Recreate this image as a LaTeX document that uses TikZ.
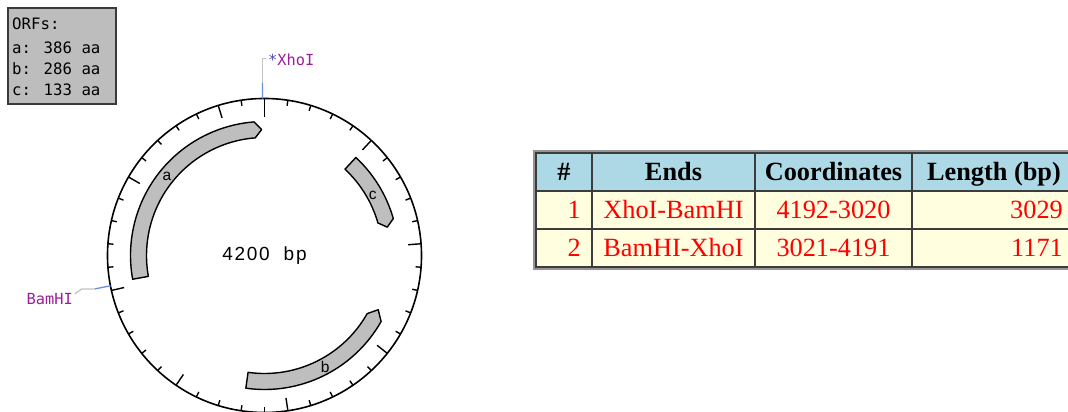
\documentclass[tikz,border=0pt]{standalone}
\usepackage{fontspec}
\setmainfont{Liberation Serif}
\newfontfamily\monof{DejaVu Sans Mono}
\newfontfamily\sansf{Liberation Sans}
\newfontfamily\sanswide[LetterSpace=9]{Liberation Sans}
\usetikzlibrary{calc}
\definecolor{orfgrey}{HTML}{BEBEBE}
\definecolor{boxgrey}{HTML}{BDBDBD}
\definecolor{boxedge}{HTML}{3A3A3A}
\definecolor{leaderblue}{HTML}{6A8FE8}
\definecolor{leadergrey}{HTML}{C4C4C4}
\definecolor{sitepurple}{HTML}{9A1F9A}
\definecolor{starblue}{HTML}{4A4AB0}
\definecolor{headblue}{HTML}{ADD8E6}
\definecolor{bodyyellow}{HTML}{FFFFE0}
\definecolor{gridcol}{HTML}{3C3C3C}
\definecolor{framegray}{HTML}{959595}
\tikzset{
  orf/.style={fill=orfgrey, draw=black, line width=1.4pt, line join=round},
  tickmark/.style={line width=1.4pt},
  ring/.style={line width=1.6pt},
  lblue/.style={draw=leaderblue, line width=1.3pt},
  lgrey/.style={draw=leadergrey, line width=1.3pt},
  sitelabel/.style={font=\monof\fontsize{15.3}{18}\selectfont, text=sitepurple, inner sep=0pt},
  orftext/.style={font=\monof\fontsize{15.7}{18}\selectfont, inner sep=0pt, anchor=west},
  orflabel/.style={font=\sansf\fontsize{15.5}{18}\selectfont, inner sep=0pt},
  hcell/.style={fill=headblue, draw=gridcol, line width=2pt, minimum height=38pt, inner sep=0pt},
  bcell/.style={fill=bodyyellow, draw=gridcol, line width=2pt, minimum height=38pt, inner sep=0pt},
  htext/.style={font=\bfseries\fontsize{26.3}{30}\selectfont, inner sep=0pt, anchor=base},
  btext/.style={font=\fontsize{26.3}{30}\selectfont, text=red, inner sep=0pt, anchor=base},
}
\begin{document}
\begin{tikzpicture}[x=1pt,y=1pt]
\useasboundingbox (0,0) rectangle (1068,412);
\clip (0,0) rectangle (1068,412);
\fill[white] (0,0) rectangle (1068,412);

% ORF legend box
\node[draw=boxedge, fill=boxgrey, line width=1.6pt, minimum width=108pt, minimum height=96pt, anchor=north west, inner sep=0pt] (orfbox) at (7,405) {};
\node[orftext] (l0) at (12,388) {ORFs:};
\node[orftext] (l1) at (12,364) {a: 386 aa};
\node[orftext] (l2) at (12,343) {b: 286 aa};
\node[orftext] (l3) at (12,322.5) {c: 133 aa};

% plasmid map
\begin{scope}[shift={(264.5,156.5)}]
  \draw[ring] (0,0) circle[radius=157pt];
  \foreach \i in {0,...,41}{
    \pgfmathsetmacro\ang{90-\i*360/42}
    \pgfmathsetmacro\len{\i==0 ? 19 : (mod(\i,5)==0 ? 13 : 5.5)}
    \pgfmathsetmacro\rin{157-\len}
    \draw[tickmark] (\ang:157) -- (\ang:\rin);
  }
  % ORF a (clockwise)
  \draw[orf] (-169.8:134) arc[start angle=-169.8, end angle=-265.5, radius=134pt]
     -- (-268.7:126) -- (-265.5:118)
     arc[start angle=-265.5, end angle=-169.8, radius=118pt] -- cycle;
  % ORF c (clockwise)
  \draw[orf] (47:134) arc[start angle=47, end angle=16, radius=134pt]
     -- (13:126) -- (16:118)
     arc[start angle=16, end angle=47, radius=118pt] -- cycle;
  % ORF b (counter-clockwise)
  \draw[orf] (-98:134) arc[start angle=-98, end angle=-29.5, radius=134pt]
     -- (-25.5:126) -- (-29.5:118)
     arc[start angle=-29.5, end angle=-98, radius=118pt] -- cycle;
  \node[orflabel] (la) at (141:125.6) {a};
  \node[orflabel] (lc) at (29.1:124) {c};
  \node[orflabel] (lb) at (-61.5:127) {b};
  \node[font=\sanswide\fontsize{19}{22}\selectfont, inner sep=0pt] (size) at (0,0) {4200~~bp};
  \coordinate (xcirc) at (90.7:157);
  \coordinate (xout) at (90.7:173);
  \coordinate (bcirc) at (-168.86:157);
  \coordinate (bout) at (-168.86:173);
\end{scope}

% XhoI leader
\coordinate (xtop) at ($(xout)+(0,24)$);
\coordinate (xend) at ($(xtop)+(4,0)$);
\draw[lblue] (xcirc) -- (xout);
\draw[lgrey] (xout) -- (xtop) -- (xend);
\node[sitelabel, anchor=west] (xho) at (268,352) {\textcolor{starblue}{*}XhoI};

% BamHI leader
\coordinate (bmid) at ($(bout)+(-13,0)$);
\coordinate (bend) at ($(bmid)+(-7,-5)$);
\draw[lblue] (bcirc) -- (bout);
\draw[lgrey] (bout) -- (bmid) -- (bend);
\node[sitelabel, anchor=east] (bam) at (73,113) {BamHI};

% table
\fill[framegray] (533,142) rectangle (1085,262);
\node[hcell, minimum width=56pt] (h1) at (564,240) {};
\node[hcell, minimum width=163pt] (h2) at (673.5,240) {};
\node[hcell, minimum width=157pt] (h3) at (833.5,240) {};
\node[hcell, minimum width=163pt] (h4) at (993.5,240) {};
\node[bcell, minimum width=56pt] (r11) at (564,202) {};
\node[bcell, minimum width=163pt] (r12) at (673.5,202) {};
\node[bcell, minimum width=157pt] (r13) at (833.5,202) {};
\node[bcell, minimum width=163pt] (r14) at (993.5,202) {};
\node[bcell, minimum width=56pt] (r21) at (564,164) {};
\node[bcell, minimum width=163pt] (r22) at (673.5,164) {};
\node[bcell, minimum width=157pt] (r23) at (833.5,164) {};
\node[bcell, minimum width=163pt] (r24) at (993.5,164) {};

\node[htext] (th1) at (564,231.5) {\#};
\node[htext] (th2) at (673.5,231.5) {Ends};
\node[htext] (th3) at (833.5,231.5) {Coordinates};
\node[htext] (th4) at (994,231.5) {Length (bp)};

\node[btext, anchor=base east] (t11) at (581,193.5) {1};
\node[btext] (t12) at (673.5,193.5) {XhoI-BamHI};
\node[btext] (t13) at (833.5,193.5) {4192-3020};
\node[btext, anchor=base east] (t14) at (1063,193.5) {3029};
\node[btext, anchor=base east] (t21) at (581,155.5) {2};
\node[btext] (t22) at (673.5,155.5) {BamHI-XhoI};
\node[btext] (t23) at (833.5,155.5) {3021-4191};
\node[btext, anchor=base east] (t24) at (1063,155.5) {1171};
\end{tikzpicture}
\end{document}
